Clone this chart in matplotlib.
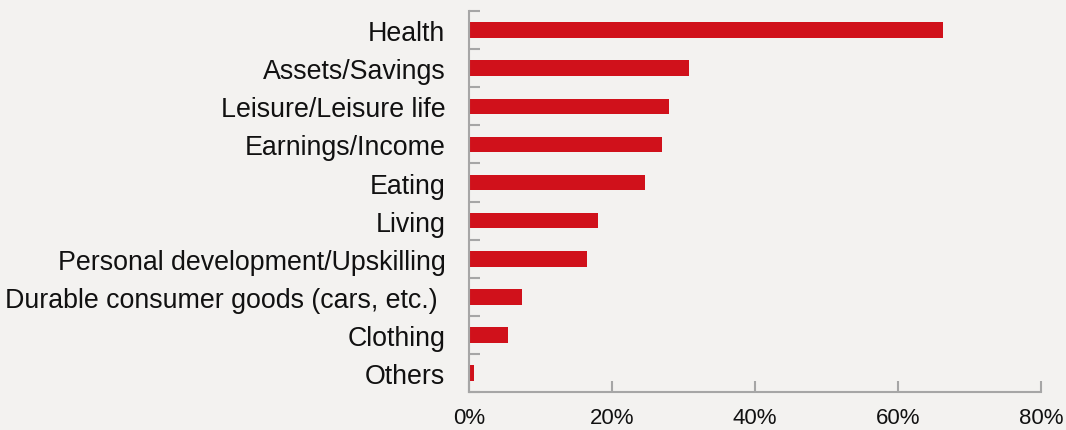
import numpy as np
import matplotlib.pyplot as plt
from matplotlib.ticker import FixedLocator, PercentFormatter

categories = ["Health", "Assets/Savings", "Leisure/Leisure life", "Earnings/Income",
              "Eating", "Living", "Personal development/Upskilling",
              "Durable consumer goods (cars, etc.) ", "Clothing", "Others"]
values = [66.3, 30.8, 28.0, 27.0, 24.6, 18.0, 16.5, 7.4, 5.5, 0.7]
x_ticks = [0, 20, 40, 60, 80]

BG = "#f3f2f0"
RED = "#d0111b"
GRAY = "#a6a6a6"

plt.rcParams['font.family'] = ['Liberation Sans', 'DejaVu Sans']

fig = plt.figure(figsize=(10.66, 4.31), dpi=100, facecolor=BG)
ax = fig.add_axes([0.44, 0.088, 0.5365, 0.884])
ax.set_facecolor(BG)

y = np.arange(len(categories))
ax.barh(y, values, height=0.41, color=RED)

ax.set_ylim(len(categories) - 0.5, -0.5)
ax.set_xlim(0, 80)
ax.set_yticks(y)
ax.set_yticklabels(categories, fontsize=19.3, color="#111111")
ax.yaxis.set_minor_locator(FixedLocator(np.arange(-0.5, len(categories), 1)))
ax.tick_params(axis="y", which="major", length=0, pad=17)
ax.tick_params(axis="y", which="minor", direction="in", length=8, width=1.5, color=GRAY)

ax.set_xticks(x_ticks)
ax.xaxis.set_major_formatter(PercentFormatter(decimals=0))
ax.tick_params(axis="x", direction="in", length=8, width=1.5, color=GRAY,
               labelsize=16, labelcolor="#111111", pad=11)

for side in ["top", "right"]:
    ax.spines[side].set_visible(False)
for side in ["left", "bottom"]:
    ax.spines[side].set_color(GRAY)
    ax.spines[side].set_linewidth(1.5)

fig.savefig("out.png", dpi=100, facecolor=BG)
